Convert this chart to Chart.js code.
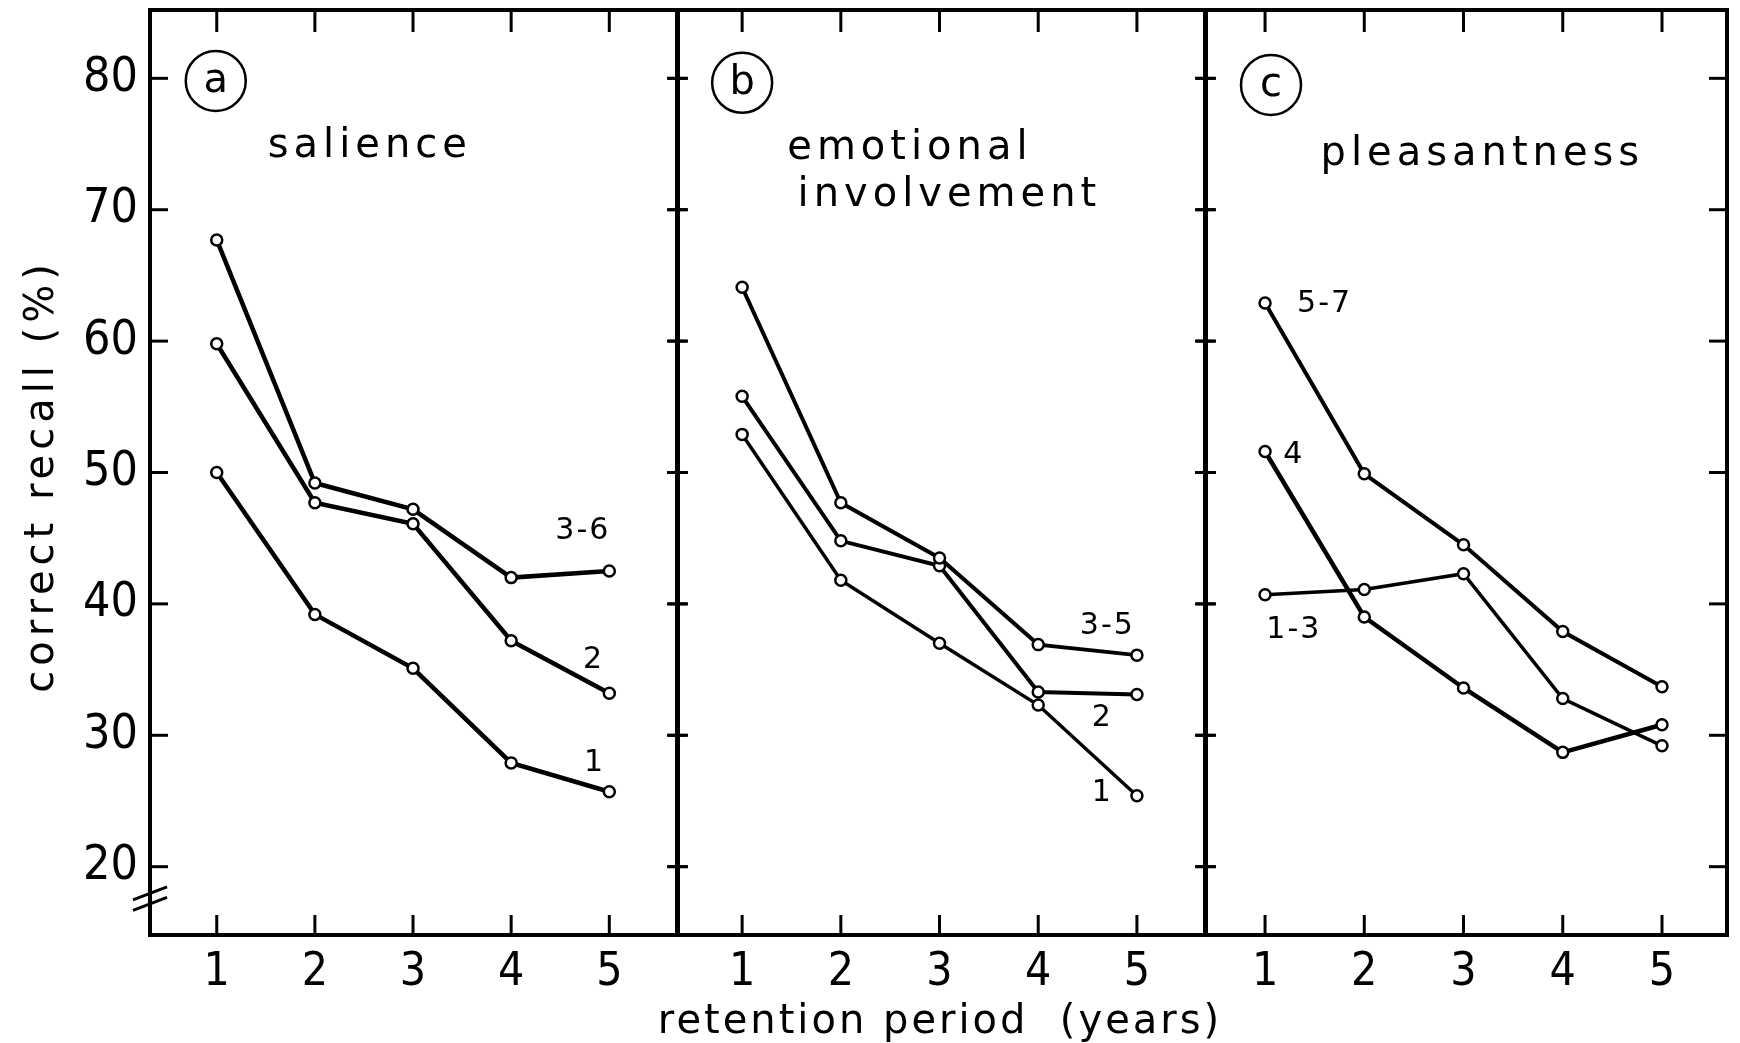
<!DOCTYPE html>
<html>
<head>
<meta charset="utf-8">
<script src="https://cdn.jsdelivr.net/npm/chart.js@4.4.1/dist/chart.umd.min.js"></script>
<style>
  html, body { margin: 0; padding: 0; background: #fff; }
  #wrap { position: relative; width: 1740px; height: 1043px; overflow: hidden; }
  #wrap canvas { position: absolute; left: 0; top: 0; }
</style>
</head>
<body>
<div id="wrap">
  <canvas id="panelA" width="1740" height="1043"></canvas>
  <canvas id="panelB" width="1740" height="1043"></canvas>
  <canvas id="panelC" width="1740" height="1043"></canvas>
</div>
<script>
const YEARS = [1, 2, 3, 4, 5];
const XTICKS = [1, 2, 3, 4, 5];
const YTICKS = [20, 30, 40, 50, 60, 70, 80];

// (a) salience
const salience36 = [67.7, 49.2, 47.2, 42.0, 42.5];
const salience2 = [59.8, 47.7, 46.1, 37.2, 33.2];
const salience1 = [50.0, 39.2, 35.1, 27.9, 25.7];

// (b) emotional involvement
const emotion35 = [64.1, 47.7, 43.5, 36.9, 36.1];
const emotion2 = [55.8, 44.8, 42.9, 33.3, 33.1];
const emotion1 = [52.9, 41.8, 37.0, 32.3, 25.4];

// (c) pleasantness
const pleasant57 = [62.9, 49.9, 44.5, 37.9, 33.7];
const pleasant4 = [51.6, 39.0, 33.6, 28.7, 30.8];
const pleasant13 = [40.7, 41.1, 42.3, 32.8, 29.2];

const FONT = 'DejaVu Sans';
const NUMFONT = 'DejaVu Sans Condensed, Liberation Sans Narrow, DejaVu Sans';

function line(ctx, x1, y1, x2, y2) {
  ctx.beginPath();
  ctx.moveTo(x1, y1);
  ctx.lineTo(x2, y2);
  ctx.stroke();
}

const panelDecor = {
  id: 'panelDecor',
  afterDraw(chart, args, o) {
    const { ctx, chartArea: a } = chart;
    const x = chart.scales.x, y = chart.scales.y;
    ctx.save();
    ctx.strokeStyle = '#000';
    ctx.fillStyle = '#000';
    ctx.lineCap = 'butt';

    // frame
    ctx.lineWidth = 4;
    ctx.strokeRect(a.left, a.top, a.right - a.left, a.bottom - a.top);

    // tick marks, drawn inward / across the dividers
    ctx.lineWidth = 3;
    YTICKS.forEach(v => {
      const py = y.getPixelForValue(v);
      if (o.first) line(ctx, a.left, py, a.left + 18, py);
      else line(ctx, a.left - 10, py, a.left + 10, py);
      if (o.last) line(ctx, a.right - 18, py, a.right, py);
      else line(ctx, a.right - 10, py, a.right + 10, py);
    });
    XTICKS.forEach(v => {
      const px = x.getPixelForValue(v);
      line(ctx, px, a.top, px, a.top + 22);
      line(ctx, px, a.bottom, px, a.bottom - 20);
    });

    // circled panel letter
    const cx = x.getPixelForValue(o.badge.x), cy = y.getPixelForValue(o.badge.y);
    ctx.lineWidth = 2.5;
    ctx.beginPath();
    ctx.arc(cx, cy, 30, 0, Math.PI * 2);
    ctx.stroke();
    ctx.font = '40px ' + FONT;
    ctx.textAlign = 'center';
    ctx.textBaseline = 'alphabetic';
    ctx.fillText(o.badge.text, cx, cy + 11);

    // panel title
    ctx.font = '40px ' + FONT;
    ctx.letterSpacing = '5px';
    o.title.forEach(t => {
      ctx.fillText(t.text, x.getPixelForValue(t.x), y.getPixelForValue(t.y));
    });

    // series labels
    ctx.font = '30px ' + FONT;
    ctx.letterSpacing = '2px';
    ctx.textBaseline = 'middle';
    o.labels.forEach(t => {
      ctx.fillText(t.text, x.getPixelForValue(t.x), y.getPixelForValue(t.y));
    });

    // axis break on the first panel
    if (o.first) {
      ctx.lineWidth = 3;
      [18.0, 17.2].forEach(v => {
        const py = y.getPixelForValue(v);
        line(ctx, a.left - 17, py + 7, a.left + 17, py - 6);
      });
      // y axis title
      ctx.save();
      ctx.font = '40px ' + FONT;
      ctx.letterSpacing = '5px';
      ctx.textBaseline = 'alphabetic';
      ctx.translate(53, 476);
      ctx.rotate(-Math.PI / 2);
      ctx.fillText('correct recall (%)', 0, 0);
      ctx.restore();
    }
    if (o.xTitle) {
      ctx.font = '40px ' + FONT;
      ctx.letterSpacing = '3px';
      ctx.textBaseline = 'alphabetic';
      ctx.fillText(o.xTitle, 940, 1033);
    }
    ctx.restore();
  }
};

function makePanel(id, p) {
  new Chart(document.getElementById(id), {
    type: 'line',
    data: {
      datasets: p.series.map(s => ({
        data: YEARS.map((yr, i) => ({ x: yr, y: s.values[i] })),
        borderColor: '#000',
        borderWidth: s.width,
        pointRadius: 5.5,
        pointBorderWidth: 2.5,
        pointBackgroundColor: '#fff',
        pointBorderColor: '#000',
        tension: 0,
        fill: false
      }))
    },
    options: {
      responsive: false,
      animation: false,
      devicePixelRatio: 1,
      layout: { padding: { left: p.left, right: 1740 - p.right, top: 10, bottom: 0 } },
      plugins: {
        legend: { display: false },
        tooltip: { enabled: false },
        panelDecor: p.decor
      },
      scales: {
        x: {
          type: 'linear',
          min: p.xmin,
          max: p.xmax,
          grid: { display: false, drawTicks: false },
          border: { display: false },
          afterBuildTicks: s => { s.ticks = XTICKS.map(v => ({ value: v })); },
          afterFit: s => { s.height = 108; s.paddingLeft = 0; s.paddingRight = 0; },
          ticks: { color: '#000', padding: 10, font: { family: NUMFONT, size: 46 } }
        },
        y: {
          type: 'linear',
          min: 14.8,
          max: 85.2,
          display: p.showY,
          grid: { display: false, drawTicks: false },
          border: { display: false },
          afterBuildTicks: s => { s.ticks = YTICKS.map(v => ({ value: v })); },
          afterFit: s => {
            s.width = p.showY ? 150 : 0;
            s.paddingTop = 0;
            s.paddingBottom = 0;
          },
          ticks: { color: '#000', padding: 12, font: { family: NUMFONT, size: 48 } }
        }
      }
    },
    plugins: [panelDecor]
  });
}

makePanel('panelA', {
  left: 0, right: 678, xmin: 0.32, xmax: 5.70, showY: true,
  series: [
    { values: salience36, width: 4.5 },
    { values: salience2, width: 4.5 },
    { values: salience1, width: 4.5 }
  ],
  decor: {
    first: true, last: false,
    badge: { text: 'a', x: 0.99, y: 79.8 },
    title: [{ text: 'salience', x: 2.56, y: 74.0 }],
    labels: [
      { text: '3-6', x: 4.73, y: 45.5 },
      { text: '2', x: 4.84, y: 35.7 },
      { text: '1', x: 4.85, y: 27.9 }
    ]
  }
});

makePanel('panelB', {
  left: 677, right: 1206, xmin: 0.34, xmax: 5.70, showY: false,
  series: [
    { values: emotion35, width: 4 },
    { values: emotion2, width: 4 },
    { values: emotion1, width: 3.5 }
  ],
  decor: {
    first: false, last: false,
    badge: { text: 'b', x: 1.0, y: 79.66 },
    title: [
      { text: 'emotional', x: 2.70, y: 73.85 },
      { text: 'involvement', x: 3.10, y: 70.3 }
    ],
    labels: [
      { text: '3-5', x: 4.70, y: 38.3 },
      { text: '2', x: 4.65, y: 31.3 },
      { text: '1', x: 4.65, y: 25.6 }
    ],
    xTitle: 'retention period  (years)'
  }
});

makePanel('panelC', {
  left: 1205, right: 1727, xmin: 0.395, xmax: 5.655, showY: false,
  series: [
    { values: pleasant57, width: 4 },
    { values: pleasant4, width: 4.5 },
    { values: pleasant13, width: 3.5 }
  ],
  decor: {
    first: false, last: true,
    badge: { text: 'c', x: 1.06, y: 79.5 },
    title: [{ text: 'pleasantness', x: 3.19, y: 73.4 }],
    labels: [
      { text: '5-7', x: 1.60, y: 62.8 },
      { text: '4', x: 1.29, y: 51.3 },
      { text: '1-3', x: 1.29, y: 38.0 }
    ]
  }
});
</script>
</body>
</html>
